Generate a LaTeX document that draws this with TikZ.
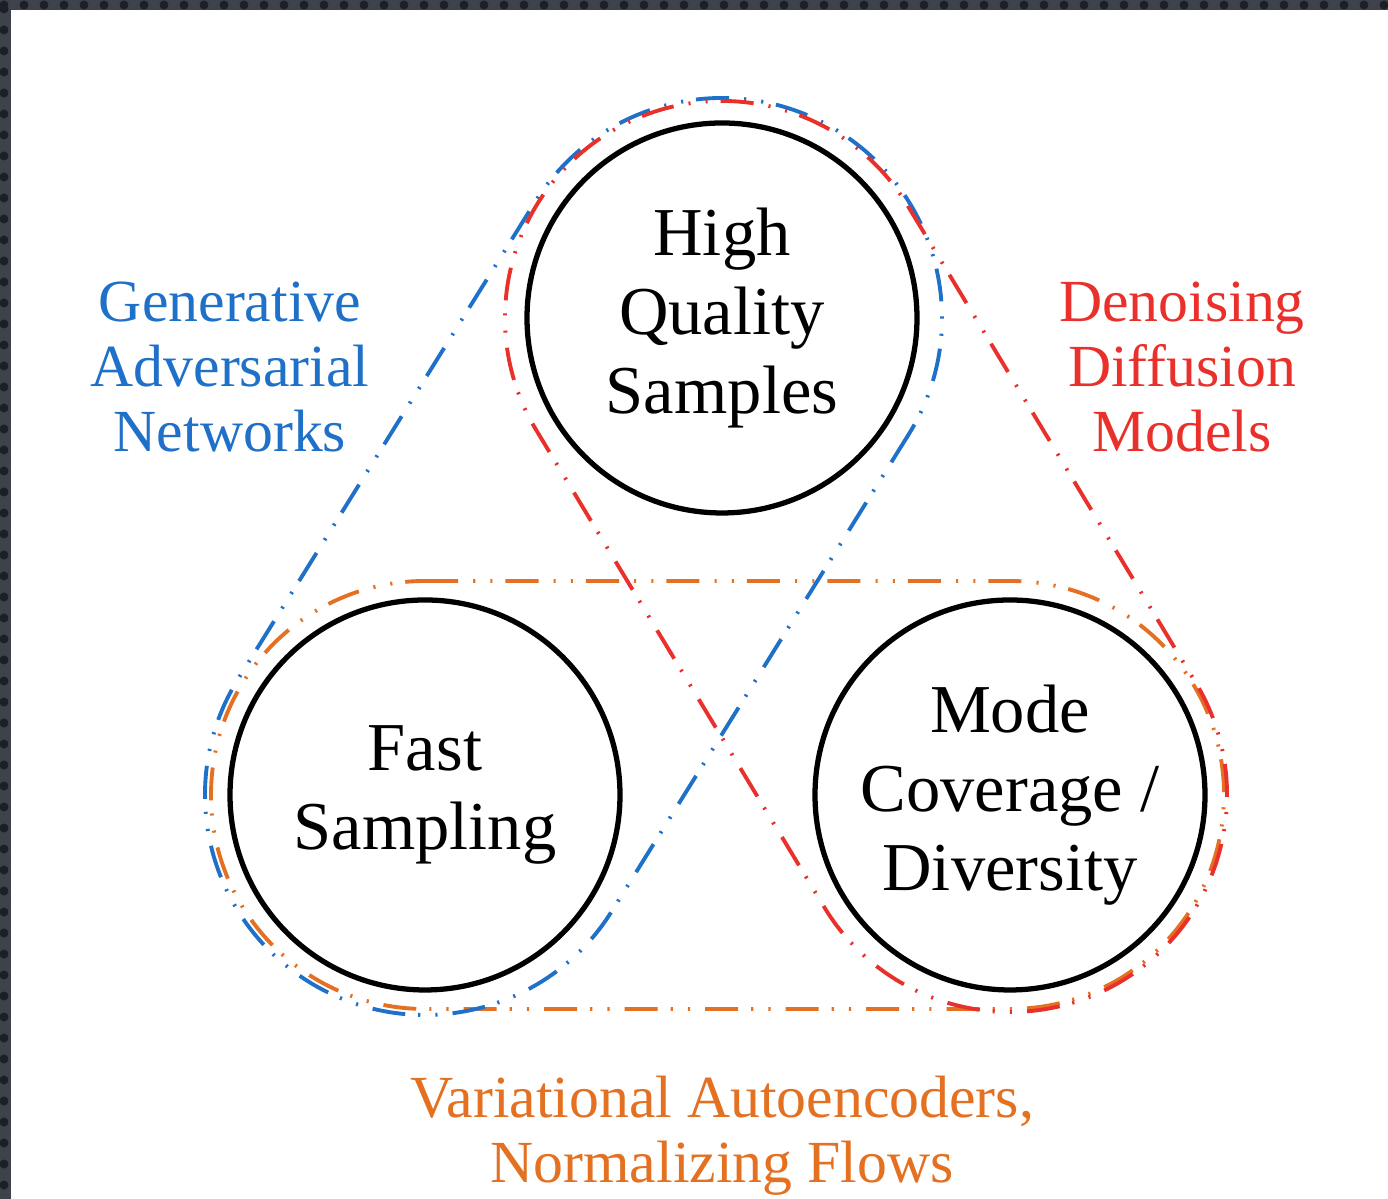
\documentclass[tikz,border=0pt]{standalone}
\usepackage{fontspec}
\setmainfont{Liberation Serif}
\usepackage{tikz}
\usetikzlibrary{calc}

\definecolor{ganblue}{RGB}{31,112,200}
\definecolor{ddmred}{RGB}{234,48,42}
\definecolor{vaeorange}{RGB}{228,112,34}
\definecolor{framegray}{RGB}{62,66,74}
\definecolor{framedot}{RGB}{28,31,38}

\tikzset{
  mixline/.style={line width=1.1pt, dash pattern=on 9.4pt off 4.3pt on 0.6pt off 4.3pt on 0.6pt off 3.7pt},
  ring/.style={circle, draw=black, line width=1.5pt, minimum size=3.9cm, inner sep=0pt, align=center,
    font=\fontsize{19.5}{22.5}\selectfont},
  family/.style={align=center, font=\fontsize{17}{18.5}\selectfont}
}

% pill around two centres: colour, radius, centre A, centre B, side angle
\newcommand{\drawPill}[5]{
  \draw[mixline, #1] ($(#3)+(#5:#2)$) -- ($(#4)+(#5:#2)$)
    arc[start angle=#5, delta angle=-180, radius=#2]
    -- ($(#3)+(#5+180:#2)$)
    arc[start angle=#5+180, delta angle=-180, radius=#2] -- cycle;
}

\begin{document}
\begin{tikzpicture}
  \useasboundingbox (0,0) rectangle (13.88,11.99);

  % Draw the frame
  \fill[framegray] (0,0) rectangle (13.88,11.99);
  \foreach \i in {0,...,69} {
    \fill[framedot] (0.2*\i+0.04,11.94) circle [radius=0.045];
  }
  \foreach \i in {0,...,56} {
    \fill[framedot] (0.04,11.9-0.21*\i) circle [radius=0.045];
  }
  \fill[white] (0.11,0) rectangle (13.88,11.89);

  % Draw the three goals
  \node[ring] (quality) at (7.22,8.81) {High\\Quality\\Samples};
  \node[ring] (fast) at (4.25,4.04) {Fast\\Sampling};
  \node[ring] (diverse) at (10.10,4.04) {Mode\\Coverage /\\Diversity};

  % Draw the model families
  \drawPill{vaeorange}{2.14}{fast}{diverse}{90}
  \drawPill{ganblue}{2.20}{quality}{fast}{328.1}
  \drawPill{ddmred}{2.17}{quality}{diverse}{31.1}

  % Label the model families
  \node[family, text=ganblue] (gan) at (2.30,8.32) {Generative\\Adversarial\\Networks};
  \node[family, text=ddmred] (ddm) at (11.82,8.32) {Denoising\\Diffusion\\Models};
  \node[family, text=vaeorange] (vae) at (7.22,0.63) {Variational Autoencoders,\\Normalizing Flows};
\end{tikzpicture}
\end{document}
